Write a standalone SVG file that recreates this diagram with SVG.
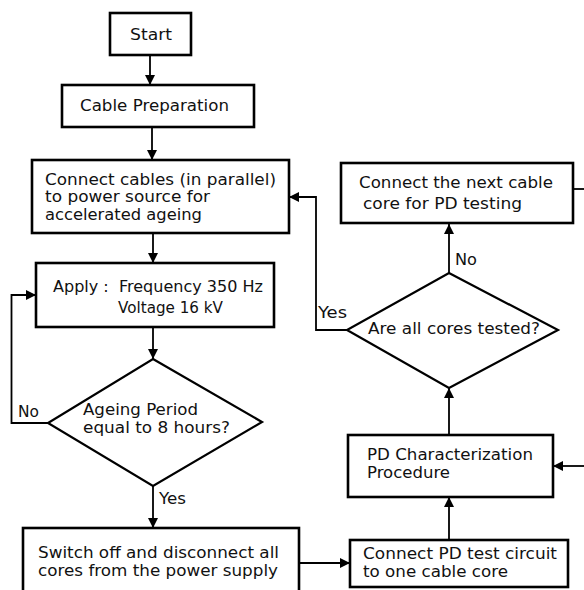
<svg xmlns="http://www.w3.org/2000/svg" width="584" height="590" viewBox="0 0 584 590">
<defs>
<style>
.box{fill:#fff;stroke:#000;stroke-width:2.6}
.ln{fill:none;stroke:#000;stroke-width:1.8}
text{font-family:"DejaVu Sans","Verdana",sans-serif;font-size:15px;fill:#111}
</style>
<marker id="ah" viewBox="0 0 10 10" refX="10" refY="5" markerWidth="10" markerHeight="10" markerUnits="userSpaceOnUse" orient="auto">
<path d="M0,0 L10,5 L0,10 Z" fill="#000"/>
</marker>
</defs>
<rect width="584" height="590" fill="#fff"/>
<g id="connectors">
<line class="ln" x1="150" y1="55" x2="150" y2="85" marker-end="url(#ah)"/>
<line class="ln" x1="152" y1="127" x2="152" y2="160" marker-end="url(#ah)"/>
<line class="ln" x1="153" y1="233" x2="153" y2="263" marker-end="url(#ah)"/>
<line class="ln" x1="153" y1="327" x2="153" y2="359" marker-end="url(#ah)"/>
<polyline class="ln" points="48,423 11.5,423 11.5,295 36,295" marker-end="url(#ah)"/>
<line class="ln" x1="153" y1="486" x2="153" y2="528" marker-end="url(#ah)"/>
<line class="ln" x1="299" y1="563" x2="350" y2="563" marker-end="url(#ah)"/>
<line class="ln" x1="449" y1="540" x2="449" y2="497" marker-end="url(#ah)"/>
<line class="ln" x1="449" y1="435" x2="449" y2="388" marker-end="url(#ah)"/>
<line class="ln" x1="449" y1="273" x2="449" y2="224" marker-end="url(#ah)"/>
<polyline class="ln" points="347,330 316,330 316,197 289,197" marker-end="url(#ah)"/>
<line class="ln" x1="573" y1="189" x2="584" y2="189"/>
<line class="ln" x1="584" y1="466" x2="553" y2="466" marker-end="url(#ah)"/>
<text x="18" y="417" textLength="21" lengthAdjust="spacingAndGlyphs">No</text>
<text x="159" y="504" textLength="27" lengthAdjust="spacingAndGlyphs">Yes</text>
<text x="318" y="318" textLength="29" lengthAdjust="spacingAndGlyphs">Yes</text>
<text x="455" y="265" textLength="22" lengthAdjust="spacingAndGlyphs">No</text>
</g>
<g id="start">
<rect class="box" x="110" y="13" width="81" height="42"/>
<text x="130" y="39.5" textLength="42" lengthAdjust="spacingAndGlyphs">Start</text>
</g>
<g id="prep">
<rect class="box" x="62" y="85" width="192" height="42"/>
<text x="80" y="110.5" textLength="149" lengthAdjust="spacingAndGlyphs">Cable Preparation</text>
</g>
<g id="connect">
<rect class="box" x="32" y="160" width="257" height="73"/>
<text x="45" y="185" textLength="231" lengthAdjust="spacingAndGlyphs">Connect cables (in parallel)</text>
<text x="45" y="202" textLength="165" lengthAdjust="spacingAndGlyphs">to power source for</text>
<text x="45" y="220" textLength="157" lengthAdjust="spacingAndGlyphs">accelerated ageing</text>
</g>
<g id="apply">
<rect class="box" x="36" y="263" width="238" height="64"/>
<text x="53" y="291.5" textLength="210" lengthAdjust="spacingAndGlyphs">Apply :&#160; Frequency 350 Hz</text>
<text x="118" y="313" textLength="105" lengthAdjust="spacingAndGlyphs">Voltage 16 kV</text>
</g>
<g id="ageing">
<polygon class="ln" points="153,359 262,422 153,486 48,423" style="stroke-width:2.2;fill:#fff"/>
<text x="83" y="415" textLength="115" lengthAdjust="spacingAndGlyphs">Ageing Period</text>
<text x="83" y="432.5" textLength="147" lengthAdjust="spacingAndGlyphs">equal to 8 hours?</text>
</g>
<g id="switch">
<rect class="box" x="23" y="528" width="276" height="70"/>
<text x="38" y="558" textLength="241" lengthAdjust="spacingAndGlyphs">Switch off and disconnect all</text>
<text x="38" y="576" textLength="240" lengthAdjust="spacingAndGlyphs">cores from the power supply</text>
</g>
<g id="pdtest">
<rect class="box" x="350" y="540" width="218" height="47"/>
<text x="363" y="559" textLength="194" lengthAdjust="spacingAndGlyphs">Connect PD test circuit</text>
<text x="363" y="577" textLength="145" lengthAdjust="spacingAndGlyphs">to one cable core</text>
</g>
<g id="pdchar">
<rect class="box" x="348" y="435" width="205" height="62"/>
<text x="367" y="460" textLength="166" lengthAdjust="spacingAndGlyphs">PD Characterization</text>
<text x="367" y="478" textLength="83" lengthAdjust="spacingAndGlyphs">Procedure</text>
</g>
<g id="alltested">
<polygon class="ln" points="449,273 558,330 449,388 347,330" style="stroke-width:2.2;fill:#fff"/>
<text x="368" y="334" textLength="172" lengthAdjust="spacingAndGlyphs">Are all cores tested?</text>
</g>
<g id="next">
<rect class="box" x="341" y="163" width="232" height="60"/>
<text x="359" y="188" textLength="194" lengthAdjust="spacingAndGlyphs">Connect the next cable</text>
<text x="363" y="209" textLength="159" lengthAdjust="spacingAndGlyphs">core for PD testing</text>
</g>
</svg>
